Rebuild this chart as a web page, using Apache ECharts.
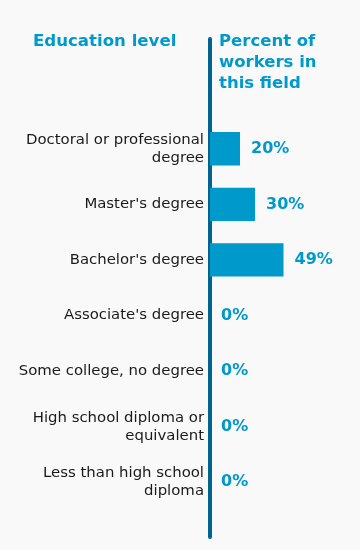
<!DOCTYPE html>
<html>
<head>
<meta charset="utf-8">
<script src="https://cdn.jsdelivr.net/npm/echarts@6/dist/echarts.min.js"></script>
<style>
html,body{margin:0;padding:0;background:#f9f9f9;}
#chart{width:360px;height:550px;}
</style>
</head>
<body>
<div id="chart"></div>
<script>
const categories = [
  "Doctoral or professional\ndegree",
  "Master's degree",
  "Bachelor's degree",
  "Associate's degree",
  "Some college, no degree",
  "High school diploma or\nequivalent",
  "Less than high school\ndiploma"
];
const values = [20, 30, 49, 0, 0, 0, 0];
const leftTitle = "Education level";
const rightTitle = "Percent of\nworkers in\nthis field";

const FONT = "'DejaVu Sans'";
const BLUE = "#0099cc";
const AXIS = "#00628f";

const chart = echarts.init(document.getElementById('chart'), null, {renderer: 'canvas'});
chart.setOption({
  backgroundColor: '#f9f9f9',
  animation: false,
  title: [
    {text: leftTitle, left: 33, top: 31, padding: 0,
     textStyle: {color: BLUE, fontFamily: FONT, fontSize: 16.6, fontWeight: 'bold', lineHeight: 21}},
    {text: rightTitle, left: 219, top: 31, padding: 0,
     textStyle: {color: BLUE, fontFamily: FONT, fontSize: 16.5, fontWeight: 'bold', lineHeight: 21}}
  ],
  grid: [
    {left: 210, width: 150, top: 121, height: 389},
    {left: 210, width: 150, top: 39, bottom: 13}
  ],
  xAxis: [
    {gridIndex: 0, type: 'value', min: 0, max: 100, show: false},
    {gridIndex: 1, type: 'value', min: 0, max: 100, show: false}
  ],
  yAxis: [
    {gridIndex: 0, type: 'category', data: categories, inverse: true,
     axisLine: {show: false}, axisTick: {show: false}, splitLine: {show: false},
     axisLabel: {margin: 6, color: '#1a1a1a', fontFamily: FONT, fontSize: 14.9, lineHeight: 18, align: 'right'}},
    {gridIndex: 1, type: 'value', min: 0, max: 1,
     axisLine: {show: true, lineStyle: {color: AXIS, width: 4}},
     axisTick: {show: false}, axisLabel: {show: false}, splitLine: {show: false}}
  ],
  series: [{
    type: 'bar',
    xAxisIndex: 0, yAxisIndex: 0,
    data: values,
    barCategoryGap: '40%',
    itemStyle: {color: BLUE},
    label: {show: true, position: 'right', distance: 11, formatter: '{c}%',
      color: BLUE, fontFamily: FONT, fontSize: 16, fontWeight: 'bold'}
  }]
});
</script>
</body>
</html>
